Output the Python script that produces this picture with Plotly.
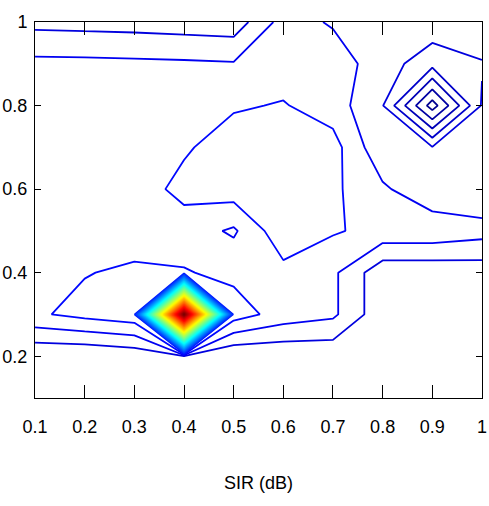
import plotly.graph_objects as go

# grid coordinates
x_vals = [0.1, 0.2, 0.3, 0.4, 0.5, 0.6, 0.7, 0.8, 0.9, 1.0]
y_vals = [0.1, 0.2, 0.3, 0.4, 0.5, 0.6, 0.7, 0.8, 0.9, 1.0]

# z values, one row per y (x = 0.1 ... 1.0)
z_y01 = [4.0, 4.0, 4.0, 4.0, 4.0, 4.0, 4.0, 3.9, 3.9, 3.9]
z_y02 = [3.61, 3.6, 3.83, 4.45, 3.6, 3.67, 3.73, 3.8, 3.8, 3.8]
z_y03 = [6.35, 6.8, 7.17, 52.0, 7.0, 6.05, 5.7, 3.8, 3.8, 3.8]
z_y04 = [6.0, 6.45, 6.68, 6.57, 6.25, 6.2, 5.7, 3.8, 3.8, 3.9]
z_y05 = [6.0, 6.0, 6.0, 6.01, 5.35, 7.2, 6.6, 6.2, 6.2, 5.9]
z_y06 = [6.0, 6.0, 6.0, 6.8, 7.02, 7.1, 6.7, 5.67, 4.7, 4.6]
z_y07 = [6.0, 6.0, 6.0, 6.37, 7.0, 7.0, 6.9, 4.7, 4.55, 4.8]
z_y08 = [5.9, 6.0, 6.0, 6.0, 6.39, 6.57, 6.0, 4.55, 0.0, 4.6]
z_y09 = [5.77, 5.75, 5.7, 5.65, 5.58, 6.0, 6.0, 5.0, 3.85, 4.43]
z_y10 = [4.21, 4.15, 4.1, 4.0, 3.91, 5.9, 5.4, 5.2, 5.15, 5.2]

x_tick_vals = [0.1, 0.2, 0.3, 0.4, 0.5, 0.6, 0.7, 0.8, 0.9, 1.0]
x_tick_text = ["0.1", "0.2", "0.3", "0.4", "0.5", "0.6", "0.7", "0.8", "0.9", "1"]
y_tick_vals = [0.2, 0.4, 0.6, 0.8, 1.0]
y_tick_text = ["0.2", "0.4", "0.6", "0.8", "1"]

z_grid = [z_y01, z_y02, z_y03, z_y04, z_y05, z_y06, z_y07, z_y08, z_y09, z_y10]

jet = [
    [0.0, "rgb(0,0,143)"],
    [0.111, "rgb(0,0,255)"],
    [0.365, "rgb(0,255,255)"],
    [0.619, "rgb(255,255,0)"],
    [0.873, "rgb(255,0,0)"],
    [1.0, "rgb(128,0,0)"],
]

fig = go.Figure(
    go.Contour(
        x=x_vals, y=y_vals, z=z_grid,
        colorscale=jet, showscale=False,
        contours=dict(coloring="lines", start=0.5, end=51.5, size=1, showlabels=False),
        line=dict(width=1.8, smoothing=0),
        hoverinfo="skip",
    )
)

font_family = "Liberation Sans Narrow, Arial Narrow, Liberation Sans, Arial, sans-serif"

fig.update_layout(
    width=489, height=506,
    margin=dict(l=35, r=7, t=22, b=108),
    paper_bgcolor="white", plot_bgcolor="white",
    showlegend=False,
    font=dict(family=font_family, size=18, color="black"),
)
fig.update_xaxes(
    range=[0.0999, 1.0001], tickmode="array", tickvals=x_tick_vals, ticktext=x_tick_text,
    ticks="inside", ticklen=13, tickwidth=1, tickcolor="black",
    showline=True, linecolor="black", linewidth=1, mirror="allticks",
    showgrid=False, zeroline=False, ticklabelstandoff=12, ticklabeloverflow="allow",
    automargin=False,
    title=dict(text="SIR (dB)", standoff=40, font=dict(family=font_family, size=18)),
)
fig.update_yaxes(
    range=[0.0999, 1.0001], tickmode="array", tickvals=y_tick_vals, ticktext=y_tick_text,
    ticks="inside", ticklen=6, tickwidth=1, tickcolor="black",
    showline=True, linecolor="black", linewidth=1, mirror="allticks",
    showgrid=False, zeroline=False, ticklabelstandoff=3, ticklabeloverflow="allow",
    automargin=False,
)

# remove the browser's default 8 px page margin so the figure fills the window
fig.write_html(
    "out.html",
    config={"displayModeBar": False},
    post_script="document.body.style.margin='0';",
)
